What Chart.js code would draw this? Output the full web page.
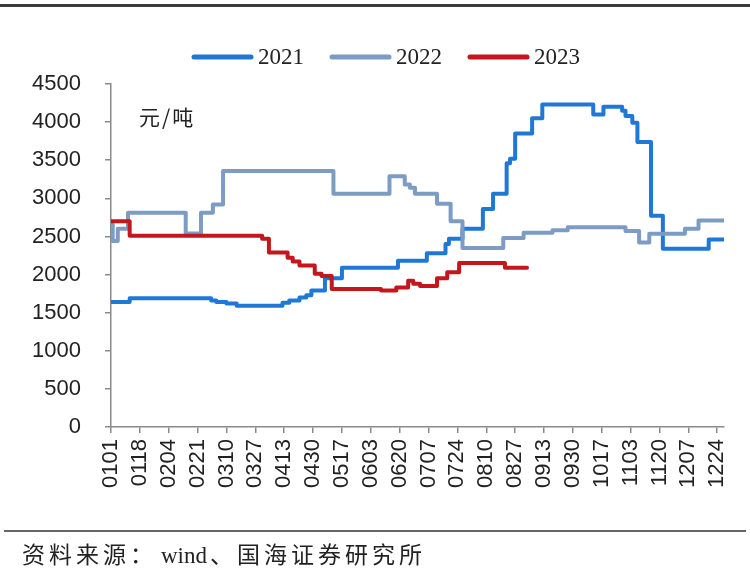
<!DOCTYPE html>
<html><head><meta charset="utf-8">
<script src="https://cdn.jsdelivr.net/npm/chart.js@4.4.0/dist/chart.umd.min.js"></script>
<style>
html,body{margin:0;padding:0;background:#fff;}
#wrap{position:relative;width:750px;height:575px;overflow:hidden;background:#fff;}
#c{position:absolute;left:0;top:0;}
.topline{position:absolute;left:0;top:4px;width:750px;height:3px;background:#3a3a3a;}
.botline{position:absolute;left:4px;top:530px;width:742px;height:2px;background:#666;}
.unit{position:absolute;left:139px;top:101px;font:21px "Noto Sans CJK SC";letter-spacing:2px;color:#222;}
.src{position:absolute;left:22px;top:536px;font:23px "Liberation Serif","Noto Sans CJK SC";letter-spacing:4px;color:#222;white-space:nowrap;}
.src .lat{letter-spacing:0;margin-left:4px;margin-right:3px;}
</style></head>
<body>
<div id="wrap">
<canvas id="c" width="750" height="575"></canvas>
<div class="topline"></div>
<div class="unit">元/吨</div>
<div class="botline"></div>
<div class="src">资料来源：<span class="lat">wind</span>、国海证券研究所</div>
</div>
<script>
// ---- data ----
const seriesNames = ['2021', '2022', '2023'];
const xTickLabels = ['0101','0118','0204','0221','0310','0327','0413','0430','0517','0603','0620','0707','0724','0810','0827','0913','0930','1017','1103','1120','1207','1224'];
const yTicks = [0,500,1000,1500,2000,2500,3000,3500,4000,4500];

const dates2021 = ['0101','0112','0301','0304','0310','0316','0412','0416','0422','0426','0429','0507','0517','0619','0706','0717','0719','0727','0808','0814','0822','0824','0827','0906','0912','1012','1018','1029','1031','1104','1107','1115','1122','1219','1228'];
const values2021 = [1640,1690,1660,1640,1620,1590,1630,1660,1700,1730,1790,1950,2090,2180,2280,2400,2470,2600,2860,3060,3460,3520,3850,4050,4230,4100,4200,4150,4080,3990,3740,2770,2340,2460,2460];

const dates2022 = ['0101','0102','0105','0111','0214','0223','0302','0308','0512','0614','0623','0626','0629','0712','0720','0727','0820','0901','0918','0927','1031','1108','1114','1205','1213','1228'];
const values2022 = [2660,2440,2600,2810,2540,2810,2920,3360,3060,3290,3180,3140,3060,2930,2700,2350,2480,2550,2580,2620,2570,2420,2535,2600,2710,2710];

const dates2023 = ['0101','0112','0331','0404','0415','0418','0422','0501','0505','0511','0609','0618','0625','0628','0702','0712','0718','0725','0821','0903'];
const values2023 = [2700,2510,2470,2290,2220,2170,2120,2010,1980,1810,1790,1830,1920,1880,1850,1950,2030,2150,2090,2090];

const colors = ['#1f78d6', '#7c9cc4', '#c4161c'];

// ---- helpers ----
const monthStart = [0,31,59,90,120,151,181,212,243,273,304,334];
function dayIndex(mmdd){ return monthStart[+mmdd.slice(0,2)-1] + (+mmdd.slice(2)) - 1; }
function pts(dates, vals){ return dates.map((d,i)=>({x: dayIndex(d), y: vals[i]})); }
const lastDay = dayIndex('1228');

const legendPlugin = {
  id: 'topLegend',
  afterDraw(chart){
    const ctx = chart.ctx;
    ctx.save();
    ctx.font = '23px "Liberation Serif"';
    ctx.textBaseline = 'middle';
    let x = 191; const y = 57;
    chart.data.datasets.forEach(ds=>{
      ctx.strokeStyle = ds.borderColor; ctx.lineWidth = 5; ctx.lineCap = 'round';
      ctx.beginPath(); ctx.moveTo(x+3, y); ctx.lineTo(x+60, y); ctx.stroke();
      ctx.fillStyle = '#222';
      ctx.fillText(ds.label, x+67, y+1);
      x += 67 + ctx.measureText(ds.label).width + 25;
    });
    ctx.restore();
  }
};

const datasets = [
  {label: seriesNames[0], data: pts(dates2021, values2021), borderColor: colors[0], order: 3},
  {label: seriesNames[1], data: pts(dates2022, values2022), borderColor: colors[1], order: 2},
  {label: seriesNames[2], data: pts(dates2023, values2023), borderColor: colors[2], order: 1}
].map(d=>Object.assign(d, {backgroundColor: d.borderColor, borderWidth: 4, pointRadius: 0, stepped: true, borderJoinStyle: 'round', borderCapStyle: 'round', fill: false}));

new Chart(document.getElementById('c'), {
  type: 'line',
  data: {datasets},
  plugins: [legendPlugin],
  options: {
    responsive: false,
    animation: false,
    layout: {padding: {top: 84, right: 26, left: 0, bottom: 0}},
    plugins: {legend: {display: false}, tooltip: {enabled: false}},
    scales: {
      x: {
        type: 'linear', min: 0, max: lastDay,
        ticks: {stepSize: 17, autoSkip: false, includeBounds: false, minRotation: 90, maxRotation: 90,
          font: {family: 'Liberation Sans', size: 22}, color: '#222', padding: 6,
          callback: v => xTickLabels[v/17] ?? ''},
        grid: {drawOnChartArea: false, tickLength: 6, color: '#8a8a8a', lineWidth: 1.5},
        border: {color: '#8a8a8a', width: 1.5},
        afterFit(s){ s.height = 148; }
      },
      y: {
        min: 0, max: 4500,
        afterBuildTicks(s){ s.ticks = yTicks.map(v=>({value: v})); },
        ticks: {font: {family: 'Liberation Sans', size: 22}, color: '#222', padding: 24, callback: v => String(v)},
        grid: {drawOnChartArea: false, tickLength: 6, color: '#8a8a8a', lineWidth: 1.5},
        border: {color: '#8a8a8a', width: 1.5},
        afterFit(s){ s.width = 111; }
      }
    }
  }
});
</script>
</body></html>
